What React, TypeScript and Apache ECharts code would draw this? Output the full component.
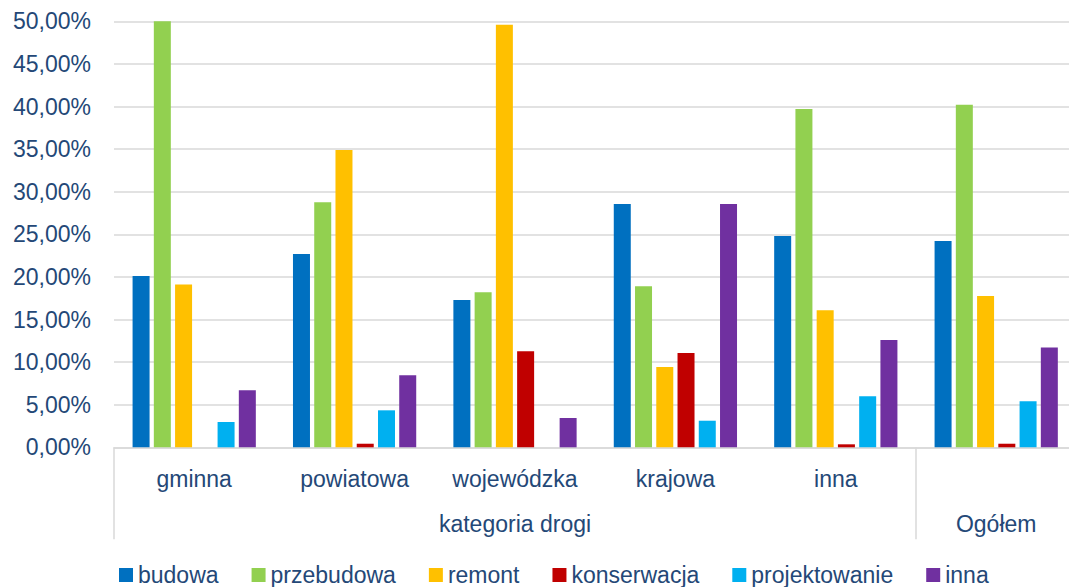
import React, { useEffect, useRef } from "react";
import * as echarts from "echarts";

// first-level categories (the "Ogółem" column has no first-level label)
const categories = ["gminna", "powiatowa", "wojewódzka", "krajowa", "inna", ""];
const groupLabels = ["kategoria drogi", "Ogółem"];
const groupSizes = [5, 1];

const seriesNames = ["budowa", "przebudowa", "remont", "konserwacja", "projektowanie", "inna"];
const budowa = [0.201, 0.227, 0.173, 0.2855, 0.248, 0.242];
const przebudowa = [0.5, 0.2875, 0.182, 0.189, 0.397, 0.402];
const remont = [0.191, 0.349, 0.496, 0.0942, 0.161, 0.1775];
const konserwacja = [0, 0.0042, 0.1127, 0.1107, 0.0035, 0.0042];
const projektowanie = [0.0297, 0.0434, 0, 0.0312, 0.06, 0.054];
const inna = [0.067, 0.0845, 0.0344, 0.2855, 0.126, 0.117];
const seriesValues = [budowa, przebudowa, remont, konserwacja, projektowanie, inna];
const colors = ["#0070C0", "#92D050", "#FFC000", "#C00000", "#00B0F0", "#7030A0"];

const yMin = 0;
const yMax = 0.5;
const yStep = 0.05;

const TEXT = "#244877";
const FONT = "'Liberation Sans', Arial, sans-serif";
const GRIDC = "#d9d9d9";

export default function App() {
  const ref = useRef<HTMLDivElement>(null);
  useEffect(() => {
    if (!ref.current) return;
    const chart = echarts.init(ref.current, null, { renderer: "svg" });

    const boundaries: number[] = [0];
    const centers: number[] = [];
    let acc = 0;
    groupSizes.forEach((s) => {
      centers.push(acc + s / 2);
      acc += s;
      boundaries.push(acc);
    });

    chart.setOption({
      animation: false,
      textStyle: { fontFamily: FONT },
      grid: { left: 114, right: 3.6, top: 21.3, bottom: 139.7, containLabel: false },
      legend: {
        left: 119,
        top: 563,
        padding: 0,
        itemWidth: 14,
        itemHeight: 14,
        itemGap: 33,
        icon: "rect",
        textStyle: { color: TEXT, fontSize: 23, lineHeight: 24, fontFamily: FONT },
        data: seriesNames,
      },
      xAxis: [
        {
          type: "category",
          data: categories,
          position: "bottom",
          axisLine: { show: true, lineStyle: { color: GRIDC, width: 1.5 } },
          axisTick: { show: false },
          axisLabel: { interval: 0, color: TEXT, fontSize: 23, fontFamily: FONT, margin: 20 },
          splitLine: { show: false },
        },
        {
          type: "value",
          min: 0,
          max: acc,
          position: "bottom",
          axisLine: { show: false },
          splitLine: { show: false },
          axisTick: {
            show: true,
            customValues: boundaries.slice(0, boundaries.length - 1),
            length: 92,
            lineStyle: { color: GRIDC, width: 1.5 },
          },
          axisLabel: {
            show: true,
            customValues: centers,
            margin: 65,
            color: TEXT,
            fontSize: 23,
            fontFamily: FONT,
            formatter: (v: number) => {
              const i = centers.findIndex((c) => Math.abs(c - v) < 1e-6);
              return i >= 0 ? groupLabels[i] : "";
            },
          },
        },
      ],
      yAxis: {
        type: "value",
        min: yMin,
        max: yMax,
        interval: yStep,
        axisLine: { show: false },
        axisTick: { show: false },
        splitLine: { show: true, lineStyle: { color: GRIDC, width: 1.5 } },
        axisLabel: {
          color: TEXT,
          fontSize: 23,
          fontFamily: FONT,
          margin: 23,
          formatter: (v: number) => (v * 100).toFixed(2).replace(".", ",") + "%",
        },
      },
      series: seriesNames.map((name, i) => ({
        name,
        type: "bar",
        xAxisIndex: 0,
        data: seriesValues[i],
        barWidth: 17,
        barGap: "25%",
        itemStyle: { color: colors[i] },
      })),
    });
    return () => chart.dispose();
  }, []);

  return (
    <div
      style={{ position: "fixed", left: 0, top: 0, width: 1069, height: 587, overflow: "hidden", background: "#fff" }}
    >
      <div ref={ref} style={{ width: 1080, height: 587 }} />
    </div>
  );
}
